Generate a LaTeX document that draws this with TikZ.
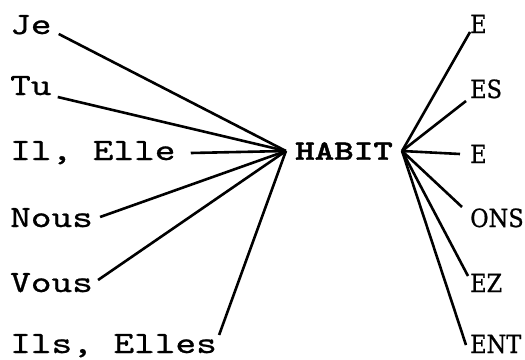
\documentclass[tikz,border=0pt]{standalone}
\usepackage{fontspec}
\newfontfamily\pronounfont{lmmono10-regular.otf}[FakeStretch=1.27, FakeBold=0.8]
\newfontfamily\stemfont{lmmonolt10-bold.otf}[FakeStretch=1.33, FakeBold=1.5]
\newfontfamily\endingfont{DejaVu Serif}[FakeStretch=0.9, FakeBold=0.8]
\usetikzlibrary{positioning}

\begin{document}
\begin{tikzpicture}[x=1pt, y=-1pt,
    pronoun/.style={anchor=base west, inner sep=0pt, font=\fontsize{31}{31}\selectfont\pronounfont},
    ending/.style={anchor=base west, inner sep=0pt, font=\fontsize{25}{25}\selectfont\endingfont},
    stem/.style={inner xsep=9pt, inner ysep=0pt, font=\fontsize{28}{28}\selectfont\stemfont},
    link/.style={draw=black, line width=2.6pt}]
    \useasboundingbox (0,0) rectangle (525,359);

    \node [stem] (habit) at (344,151) {HABIT};

    \node [pronoun] (je) at (10,34) {Je};
    \node [pronoun] (tu) at (10,95) {Tu};
    \node [pronoun] (il) at (10,160) {Il, Elle};
    \node [pronoun] (nous) at (10,227) {Nous};
    \node [pronoun] (vous) at (10,292) {Vous};
    \node [pronoun] (ils) at (10,353) {Ils, Elles};

    \node [ending] (e1) at (470,33) {E};
    \node [ending] (es) at (470,98) {ES};
    \node [ending] (e3) at (470,163) {E};
    \node [ending] (ons) at (470,227) {ONS};
    \node [ending] (ez) at (470,292) {EZ};
    \node [ending] (ent) at (470,353) {ENT};

    \draw [link] ([xshift=7pt]je.base east) -- (habit.west);
    \draw [link] ([xshift=6pt, yshift=-2pt]tu.base east) -- (habit.west);
    \draw [link] ([xshift=15pt, yshift=7pt]il.base east) -- (habit.west);
    \draw [link] ([xshift=7pt, yshift=10pt]nous.base east) -- (habit.west);
    \draw [link] ([xshift=5pt, yshift=12pt]vous.base east) -- (habit.west);
    \draw [link] ([xshift=2pt, yshift=18pt]ils.base east) -- (habit.west);

    \draw [link] (habit.east) -- ([yshift=1pt]e1.base west);
    \draw [link] (habit.east) -- ([xshift=-4pt, yshift=-3pt]es.base west);
    \draw [link] (habit.east) -- ([xshift=-10pt, yshift=9pt]e3.base west);
    \draw [link] (habit.east) -- ([xshift=-8pt, yshift=20pt]ons.base west);
    \draw [link] (habit.east) -- ([xshift=-2pt, yshift=16pt]ez.base west);
    \draw [link] (habit.east) -- ([xshift=-4pt, yshift=8pt]ent.base west);

\end{tikzpicture}
\end{document}
